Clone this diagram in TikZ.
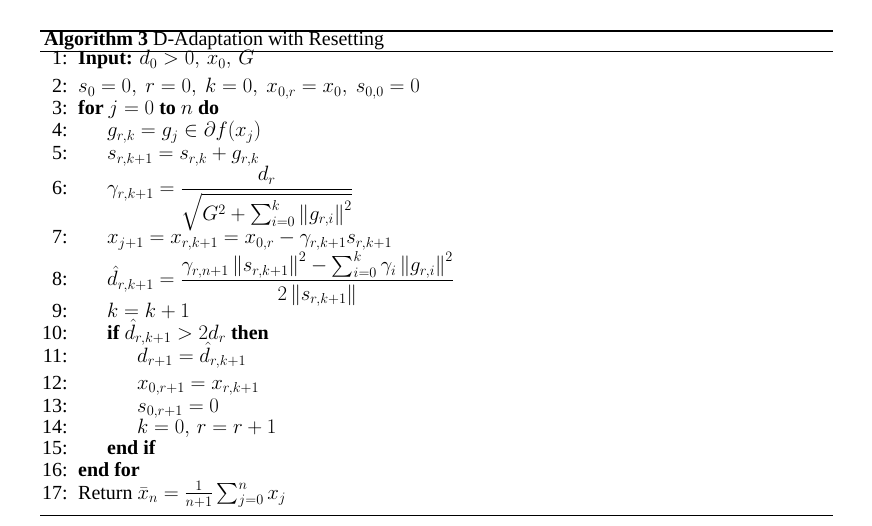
\documentclass[tikz,border=0pt]{standalone}
\usepackage{amsmath}
\usepackage{fontspec}
\setmainfont{Liberation Serif}
\tikzset{
  num/.style={anchor=base east, inner sep=0pt},
  stmt/.style={anchor=base west, inner sep=0pt},
}
\newcommand{\nrm}[1]{\left\|#1\right\|}
\begin{document}
\begin{tikzpicture}[x=1pt,y=-1pt,font=\fontsize{20}{22}\selectfont]
  \useasboundingbox (0,0) rectangle (872,526);
  \draw[line width=1.4pt] (40,31) -- (833,31);
  \draw[line width=0.8pt] (40,51) -- (833,51);
  \draw[line width=0.8pt] (40,515) -- (833,515);
  \node[stmt] (title) at (44,46) {\textbf{Algorithm 3} D-Adaptation with Resetting};
  % line numbers
  \foreach \n/\y in {1/65,2/93,3/115,4/137,5/160,6/195,7/244,8/286,9/318,10/339,11/362,12/389,13/412,14/433,15/454,16/476,17/499}
    \node[num] (n\n) at (68,\y) {\n:};
  % statements
  \node[stmt] (l1) at (78,65) {\textbf{Input:} $d_0>0,\,x_0,\,G$};
  \node[stmt] (l2) at (78,93) {$s_0=0,\ r=0,\ k=0,\ x_{0,r}=x_0,\ s_{0,0}=0$};
  \node[stmt] (l3) at (78,115) {\textbf{for} $j=0$ \textbf{to} $n$ \textbf{do}};
  \node[stmt] (l4) at (107,137) {$g_{r,k}=g_j\in\partial f(x_j)$};
  \node[stmt] (l5) at (107,160) {$s_{r,k+1}=s_{r,k}+g_{r,k}$};
  \node[stmt] (l6) at (107,195) {$\gamma_{r,k+1}=\dfrac{d_r}{\sqrt{G^2+\sum_{i=0}^{k}\nrm{g_{r,i}}^2}}$};
  \node[stmt] (l7) at (107,244) {$x_{j+1}=x_{r,k+1}=x_{0,r}-\gamma_{r,k+1}s_{r,k+1}$};
  \node[stmt] (l8) at (107,286) {$\hat d_{r,k+1}=\dfrac{\gamma_{r,n+1}\nrm{s_{r,k+1}}^2-\sum_{i=0}^{k}\gamma_i\nrm{g_{r,i}}^2}{2\nrm{s_{r,k+1}}}$};
  \node[stmt] (l9) at (107,318) {$k=k+1$};
  \node[stmt] (l10) at (107,339) {\textbf{if} $\hat d_{r,k+1}>2d_r$ \textbf{then}};
  \node[stmt] (l11) at (137,362) {$d_{r+1}=\hat d_{r,k+1}$};
  \node[stmt] (l12) at (137,389) {$x_{0,r+1}=x_{r,k+1}$};
  \node[stmt] (l13) at (137,412) {$s_{0,r+1}=0$};
  \node[stmt] (l14) at (137,433) {$k=0,\,r=r+1$};
  \node[stmt] (l15) at (107,454) {\textbf{end if}};
  \node[stmt] (l16) at (78,476) {\textbf{end for}};
  \node[stmt] (l17) at (78,499) {Return $\bar x_n=\frac{1}{n+1}\sum_{j=0}^{n}x_j$};
\end{tikzpicture}
\end{document}
